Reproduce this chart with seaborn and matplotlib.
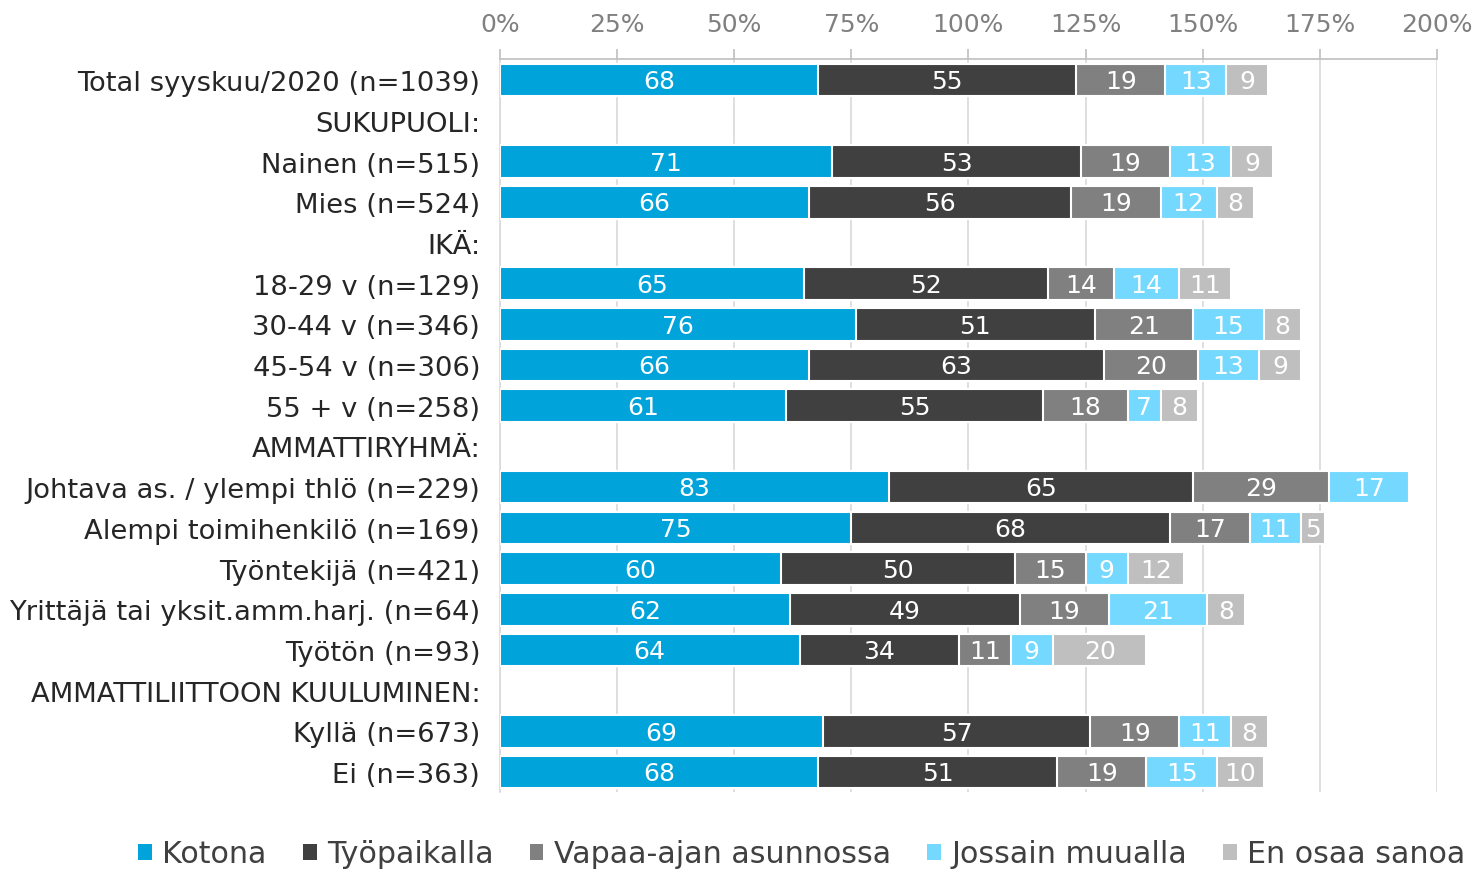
import numpy as np
import pandas as pd
import matplotlib
matplotlib.use("Agg")
import matplotlib.pyplot as plt
from matplotlib.patches import Patch
import seaborn as sns

# rows of the chart (header rows have no values)
groups = ["Total syyskuu/2020 (n=1039)", "SUKUPUOLI:", "Nainen (n=515)", "Mies (n=524)",
          "IKÄ:", "18-29 v (n=129)", "30-44 v (n=346)", "45-54 v (n=306)", "55 + v (n=258)",
          "AMMATTIRYHMÄ:", "Johtava as. / ylempi thlö (n=229)", "Alempi toimihenkilö (n=169)",
          "Työntekijä (n=421)", "Yrittäjä tai yksit.amm.harj. (n=64)", "Työtön (n=93)",
          "AMMATTILIITTOON KUULUMINEN:", "Kyllä (n=673)", "Ei (n=363)"]

series = ["Kotona", "Työpaikalla", "Vapaa-ajan asunnossa", "Jossain muualla", "En osaa sanoa"]
colors = ["#00A3DA", "#404040", "#808080", "#75D9FF", "#BFBFBF"]

kotona = [68, None, 71, 66, None, 65, 76, 66, 61, None, 83, 75, 60, 62, 64, None, 69, 68]
tyopaikalla = [55, None, 53, 56, None, 52, 51, 63, 55, None, 65, 68, 50, 49, 34, None, 57, 51]
vapaa_ajan = [19, None, 19, 19, None, 14, 21, 20, 18, None, 29, 17, 15, 19, 11, None, 19, 19]
muualla = [13, None, 13, 12, None, 14, 15, 13, 7, None, 17, 11, 9, 21, 9, None, 11, 15]
en_osaa = [9, None, 9, 8, None, 11, 8, 9, 8, None, 0, 5, 12, 8, 20, None, 8, 10]

df = pd.DataFrame({"group": groups, "Kotona": kotona, "Työpaikalla": tyopaikalla,
                   "Vapaa-ajan asunnossa": vapaa_ajan, "Jossain muualla": muualla,
                   "En osaa sanoa": en_osaa})
vals = df[series].astype(float)
cum = vals.cumsum(axis=1)

sns.set_theme(style="white")
plt.rcParams["font.family"] = ["DejaVu Sans"]

fig, ax = plt.subplots(figsize=(14.83, 8.7), dpi=100)
fig.subplots_adjust(left=0.337, right=0.969, top=0.9315, bottom=0.088)

# stacked bars: draw cumulative totals from the last series back to the first
for i in range(len(series) - 1, -1, -1):
    d = pd.DataFrame({"group": groups, "v": cum[series[i]]})
    sns.barplot(data=d, x="v", y="group", order=groups, color=colors[i], width=0.8,
                edgecolor="white", linewidth=1.5, saturation=1, ax=ax, zorder=3)

# value labels in the middle of each segment
for r in range(len(groups)):
    for i, s in enumerate(series):
        v = vals.iloc[r][s]
        if pd.isna(v) or v == 0:
            continue
        mid = cum.iloc[r][s] - v / 2
        ax.text(mid, r + 0.03, f"{int(v)}", ha="center", va="center", color="white",
                fontsize=18, zorder=5)

ax.set_xlim(0, 200)
ax.set_ylim(17.5, -0.53)
ax.set_xticks(np.arange(0, 201, 25))
ax.set_xticklabels([f"{t}%" for t in range(0, 201, 25)])
ax.xaxis.tick_top()
ax.tick_params(axis="x", colors="#BFBFBF", labelcolor="#808080", labelsize=18,
               length=7, width=1.2, pad=9, top=True, bottom=False)
ax.tick_params(axis="y", length=0, labelsize=19.7, labelcolor="#262626", pad=14)
ax.set_xlabel("")
ax.set_ylabel("")
ax.grid(axis="x", color="#D9D9D9", linewidth=1.2, zorder=0)
ax.set_axisbelow(True)
for sp in ["right", "bottom"]:
    ax.spines[sp].set_visible(False)
ax.spines["top"].set_color("#BFBFBF")
ax.spines["top"].set_linewidth(1.2)
ax.spines["left"].set_color("#D9D9D9")
ax.spines["left"].set_linewidth(1.2)

handles = [Patch(facecolor=c, edgecolor="none", label=s) for c, s in zip(colors, series)]
fig.legend(handles=handles, loc="center", bbox_to_anchor=(802 / 1483, 1 - 855 / 870),
           ncol=5, frameon=False, fontsize=21.7, handlelength=0.45, handleheight=0.45,
           handletextpad=0.35, columnspacing=1.2, labelcolor="#404040")

fig.savefig("out.png", dpi=100)
